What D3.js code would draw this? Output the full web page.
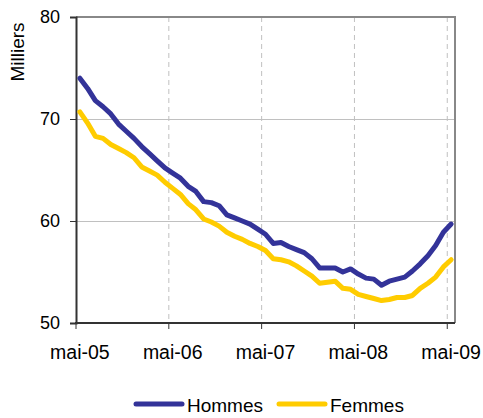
<!DOCTYPE html>
<html>
<head>
<meta charset="utf-8">
<script src="https://cdn.jsdelivr.net/npm/d3@7"></script>
<style>
  body { margin: 0; background: #fff; }
  text { font-family: "Liberation Sans", Arial, sans-serif; fill: #000; }
</style>
</head>
<body>
<div id="chart"></div>
<script>
var width = 483,
  height = 418;

// mois de mai-05 a mai-09
var mois = ["mai-05","juin-05","juil-05","août-05","sept-05","oct-05","nov-05","déc-05","janv-06","févr-06","mars-06","avr-06",
  "mai-06","juin-06","juil-06","août-06","sept-06","oct-06","nov-06","déc-06","janv-07","févr-07","mars-07","avr-07",
  "mai-07","juin-07","juil-07","août-07","sept-07","oct-07","nov-07","déc-07","janv-08","févr-08","mars-08","avr-08",
  "mai-08","juin-08","juil-08","août-08","sept-08","oct-08","nov-08","déc-08","janv-09","févr-09","mars-09","avr-09",
  "mai-09"];

var hommes = [74.0, 73.0, 71.8, 71.2, 70.5, 69.5, 68.8, 68.1, 67.3, 66.6, 65.9, 65.2,
  64.7, 64.2, 63.4, 62.9, 61.9, 61.8, 61.5, 60.6, 60.3, 60.0, 59.7, 59.2,
  58.7, 57.8, 57.9, 57.5, 57.2, 56.9, 56.3, 55.4, 55.4, 55.4, 55.0, 55.3,
  54.8, 54.4, 54.3, 53.7, 54.1, 54.3, 54.5, 55.1, 55.8, 56.6, 57.6, 58.9,
  59.7];

var femmes = [70.7, 69.6, 68.3, 68.1, 67.5, 67.1, 66.7, 66.2, 65.3, 64.9, 64.5, 63.8,
  63.2, 62.6, 61.7, 61.1, 60.2, 59.9, 59.5, 58.9, 58.5, 58.2, 57.8, 57.5,
  57.1, 56.3, 56.2, 56.0, 55.6, 55.1, 54.6, 53.9, 54.0, 54.1, 53.4, 53.3,
  52.8, 52.6, 52.4, 52.2, 52.3, 52.5, 52.5, 52.7, 53.4, 53.9, 54.5, 55.5,
  56.2];

var yTicks = [50, 60, 70, 80];
var xLabels = ["mai-05", "mai-06", "mai-07", "mai-08", "mai-09"];

var series = [
  {name: "Hommes", values: hommes, color: "#333399"},
  {name: "Femmes", values: femmes, color: "#FFCC00"}
];

var plotL = 76, plotR = 455, plotT = 17, plotB = 323;

var svg = d3.select("#chart")
  .append("svg")
  .attr("width", width)
  .attr("height", height);

// categories: ticks between categories, points in the middle
var x = d3.scaleLinear().domain([0, mois.length]).range([plotL, plotR]);
var y = d3.scaleLinear().domain([50, 80]).range([plotB, plotT]);

// horizontal gridlines
svg.selectAll(".hgrid")
  .data([60, 70])
  .enter().append("line")
  .attr("x1", plotL).attr("x2", plotR)
  .attr("y1", function(d) { return y(d) + 0.5 })
  .attr("y2", function(d) { return y(d) + 0.5 })
  .attr("stroke", "#c0c0c0")
  .attr("stroke-width", 1);

// vertical dashed gridlines (every 12 months)
var tickIdx = xLabels.map(function(d) { return mois.indexOf(d) });
svg.selectAll(".vgrid")
  .data(tickIdx.slice(1))
  .enter().append("line")
  .attr("x1", function(d) { return x(d) })
  .attr("x2", function(d) { return x(d) })
  .attr("y1", plotT).attr("y2", plotB)
  .attr("stroke", "#c0c0c0")
  .attr("stroke-dasharray", "5,4");

// top and right border
svg.append("line")
  .attr("x1", plotL).attr("x2", plotR + 1)
  .attr("y1", y(80)).attr("y2", y(80))
  .attr("stroke", "#888").attr("stroke-width", 2);
svg.append("line")
  .attr("x1", plotR).attr("x2", plotR)
  .attr("y1", plotT).attr("y2", plotB)
  .attr("stroke", "#888").attr("stroke-width", 2);

// y axis
var yAxis = svg.append("g")
  .attr("transform", "translate(" + plotL + ",0)")
  .call(d3.axisLeft(y).tickValues(yTicks).tickSize(6).tickPadding(10));
yAxis.select(".domain").attr("stroke", "#333").attr("stroke-width", 2);
yAxis.selectAll(".tick line").attr("stroke", "#333");
yAxis.selectAll("text").style("font-size", "18px").style("font-family", "'Liberation Sans', Arial, sans-serif").attr("fill", "#000");

svg.append("text")
  .attr("transform", "translate(24,52) rotate(-90)")
  .attr("text-anchor", "middle")
  .style("font-size", "19px")
  .text("Milliers");

// x axis
svg.append("line")
  .attr("x1", plotL - 1).attr("x2", plotR)
  .attr("y1", plotB).attr("y2", plotB)
  .attr("stroke", "#333").attr("stroke-width", 2);

svg.selectAll(".xtick")
  .data(tickIdx)
  .enter().append("line")
  .attr("x1", function(d) { return x(d) })
  .attr("x2", function(d) { return x(d) })
  .attr("y1", plotB).attr("y2", plotB + 6)
  .attr("stroke", "#333");

svg.selectAll(".xlabel")
  .data(tickIdx)
  .enter().append("text")
  .attr("x", function(d) { return x(d + 0.5) })
  .attr("y", 359)
  .attr("text-anchor", "middle")
  .style("font-size", "19.5px")
  .text(function(d) { return mois[d] });

// lines
var line = d3.line()
  .x(function(d, i) { return x(i + 0.5) })
  .y(function(d) { return y(d) })
  .curve(d3.curveLinear);

svg.selectAll(".serie")
  .data(series)
  .enter().append("path")
  .attr("fill", "none")
  .attr("stroke", function(d) { return d.color })
  .attr("stroke-width", 5)
  .attr("stroke-linejoin", "round")
  .attr("stroke-linecap", "round")
  .attr("d", function(d) { return line(d.values) });

// legend
var legend = svg.selectAll(".legend")
  .data(series)
  .enter().append("g")
  .attr("transform", function(d, i) { return "translate(" + (136 + i * 143) + ",404)" });

legend.append("line")
  .attr("x1", 0).attr("x2", 46)
  .attr("stroke", function(d) { return d.color })
  .attr("stroke-width", 5)
  .attr("stroke-linecap", "round");

legend.append("text")
  .attr("x", 51)
  .attr("y", 8)
  .style("font-size", "19px")
  .text(function(d) { return d.name });
</script>
</body>
</html>
